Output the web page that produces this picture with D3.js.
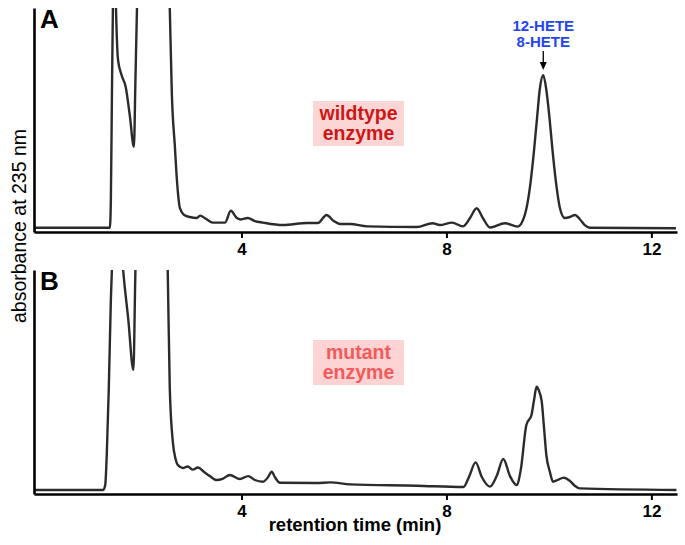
<!DOCTYPE html>
<html>
<head>
<meta charset="utf-8">
<script src="https://cdn.jsdelivr.net/npm/d3@7"></script>
<style>
  html, body { margin: 0; padding: 0; background: #fff; }
  svg { display: block; }
  text { font-family: "Liberation Sans", Arial, Helvetica, sans-serif; }
</style>
</head>
<body>
<svg id="chart" width="685" height="545"></svg>
<script>
// ---- Data (retention time in min, absorbance in arbitrary units; >100 = off-scale) ----
const tickValuesX = [4, 8, 12];

const timeA = [-0.05,1.43,1.45,1.47,1.49,1.52,1.55,1.59,1.66,1.74,1.82,1.90,1.93,1.96,2.05,2.30,2.52,2.60,2.64,2.70,2.74,2.80,2.88,2.99,3.13,3.19,3.31,3.44,3.68,3.79,3.91,3.99,4.12,4.26,4.42,4.81,5.28,5.49,5.66,5.80,5.92,6.12,6.45,7.42,7.73,7.87,8.11,8.32,8.46,8.59,8.71,8.85,9.14,9.39,9.53,9.63,9.71,9.77,9.82,9.89,9.95,10.01,10.07,10.15,10.21,10.31,10.41,10.51,10.60,10.70,10.80,12.48];
const absA  = [1.9,1.9,14,59,100,135,100,76.8,70,64.7,52,38,68,100,150,170,150,100,62,38,23,10.5,7.6,6.7,6.25,7.3,5.8,4.2,4.2,9.5,6.25,5.6,6.25,4.9,4.2,3.1,4.0,4.0,7.6,4.9,3.6,3.6,2.5,2.2,3.9,3.1,4.2,2.5,6.25,10.6,6.25,2.0,3.9,2.4,7.6,20,36.6,51.3,63.4,70,63.4,51.3,36.6,20,11.2,6.25,6.7,7.6,5.8,3.1,1.9,1.65];

const timeB = [-0.05,1.30,1.34,1.37,1.41,1.45,1.47,1.55,1.69,1.79,1.89,1.93,2.05,2.30,2.50,2.56,2.60,2.66,2.71,2.76,2.86,2.95,3.05,3.15,3.27,3.38,3.51,3.64,3.77,3.97,4.13,4.26,4.42,4.52,4.59,4.65,4.75,5.46,5.73,6.12,7.42,8.33,8.44,8.57,8.69,8.85,8.98,9.11,9.24,9.37,9.45,9.56,9.66,9.71,9.76,9.80,9.86,9.90,9.95,10.02,10.08,10.17,10.29,10.41,10.51,10.60,12.49];
const absB  = [1.8,1.8,4.0,17.4,47.3,86.6,100,150,100,78,55.4,100,150,170,150,100,47.3,23.2,16,12.9,11.6,12.3,10.9,11.8,9.8,8.0,6.25,6.9,8.5,6.7,8.0,6.25,5.5,7.6,10.0,7.6,5.0,4.9,5.2,4.3,3.7,3.1,7.6,14.1,7.6,3.3,8.0,15.6,8.0,4.0,10.7,30.8,35.3,42,47.9,46.4,41.2,30.8,17.4,9.8,5.5,6.25,7.3,5.8,3.6,2.5,1.8];

const panelLetters = ["A", "B"];
const enzymeLabels = [["wildtype", "enzyme"], ["mutant", "enzyme"]];
const peakLabel = ["12-HETE", "8-HETE"];
const peakTime = 9.89;
const xTitle = "retention time (min)";
const yTitle = "absorbance at 235 nm";

// ---- Layout ----
const svg = d3.select("#chart");
const left = 34, right = 677;
const panels = [
  { top: 8,   bottom: 232, t: timeA, v: absA, letter: panelLetters[0], label: enzymeLabels[0],
    textColor: "#cf1616", boxColor: "#fcd5d5", labelY: 101 },
  { top: 270, bottom: 494, t: timeB, v: absB, letter: panelLetters[1], label: enzymeLabels[1],
    textColor: "#f25b5b", boxColor: "#fdd3d3", labelY: 340 }
];

const x = d3.scaleLinear().domain([-0.05, 12.5]).range([left, right]);

panels.forEach((p, i) => {
  const y = d3.scaleLinear().domain([0, 100]).range([p.bottom, p.top]);
  const g = svg.append("g");

  const clipId = "clip" + i;
  svg.append("clipPath").attr("id", clipId)
    .append("rect").attr("x", left).attr("y", p.top)
    .attr("width", right - left).attr("height", p.bottom - p.top);

  const pts = p.t.map((d, k) => [d, p.v[k]]);
  const line = d3.line().x(d => x(d[0])).y(d => y(d[1])).curve(d3.curveMonotoneX);

  g.append("path")
    .attr("d", line(pts))
    .attr("clip-path", `url(#${clipId})`)
    .attr("fill", "none")
    .attr("stroke", "#2b2b2b")
    .attr("stroke-width", 2.4)
    .attr("stroke-linejoin", "round");

  // x axis
  const xAxis = d3.axisBottom(x).tickValues(tickValuesX).tickFormat(d3.format("d"))
    .tickSize(6).tickSizeOuter(0).tickPadding(5);
  const ax = g.append("g").attr("transform", `translate(0,${p.bottom})`).call(xAxis);
  ax.select(".domain").attr("stroke", "#000").attr("stroke-width", 2.6);
  ax.selectAll(".tick line").attr("stroke", "#000").attr("stroke-width", 2);
  ax.selectAll(".tick text").attr("fill", "#000").attr("font-size", 17).attr("font-weight", "bold")
    .style("font-family", '"Liberation Sans", Arial, sans-serif');

  // y axis (no ticks)
  const yAxis = d3.axisLeft(y).tickValues([]).tickSizeOuter(0);
  const ay = g.append("g").attr("transform", `translate(${left},0)`).call(yAxis);
  ay.select(".domain").attr("stroke", "#000").attr("stroke-width", 2.6);

  // panel letter
  g.append("text").attr("x", 40).attr("y", p.top + 20)
    .attr("font-size", 26).attr("font-weight", "bold").attr("fill", "#000")
    .text(p.letter);

  // enzyme label with box
  g.append("rect").attr("x", 313).attr("y", p.labelY).attr("width", 91).attr("height", 45)
    .attr("fill", p.boxColor);
  const lt = g.append("text").attr("text-anchor", "middle")
    .attr("font-size", 19.5).attr("font-weight", "bold").attr("fill", p.textColor);
  lt.append("tspan").attr("x", 358.5).attr("y", p.labelY + 19).text(p.label[0]);
  lt.append("tspan").attr("x", 358.5).attr("y", p.labelY + 39).text(p.label[1]);
});

// Peak annotation (panel A)
const ax0 = x(peakTime);
const ann = svg.append("text").attr("text-anchor", "middle").attr("font-size", 15)
  .attr("font-weight", "bold").attr("fill", "#2345ee");
ann.append("tspan").attr("x", ax0).attr("y", 31).text(peakLabel[0]);
ann.append("tspan").attr("x", ax0).attr("y", 47).text(peakLabel[1]);
svg.append("line").attr("x1", ax0).attr("x2", ax0).attr("y1", 51).attr("y2", 63)
  .attr("stroke", "#000").attr("stroke-width", 1.3);
svg.append("path").attr("d", `M${ax0 - 3.5},62 L${ax0 + 3.5},62 L${ax0},70 Z`).attr("fill", "#000");

// Axis titles
svg.append("text").attr("x", 355).attr("y", 531).attr("text-anchor", "middle")
  .attr("font-size", 18.5).attr("font-weight", "bold").attr("fill", "#000").text(xTitle);
svg.append("text").attr("transform", "translate(26,226) rotate(-90)").attr("text-anchor", "middle")
  .attr("font-size", 19.5).attr("fill", "#000").text(yTitle);
</script>
</body>
</html>
